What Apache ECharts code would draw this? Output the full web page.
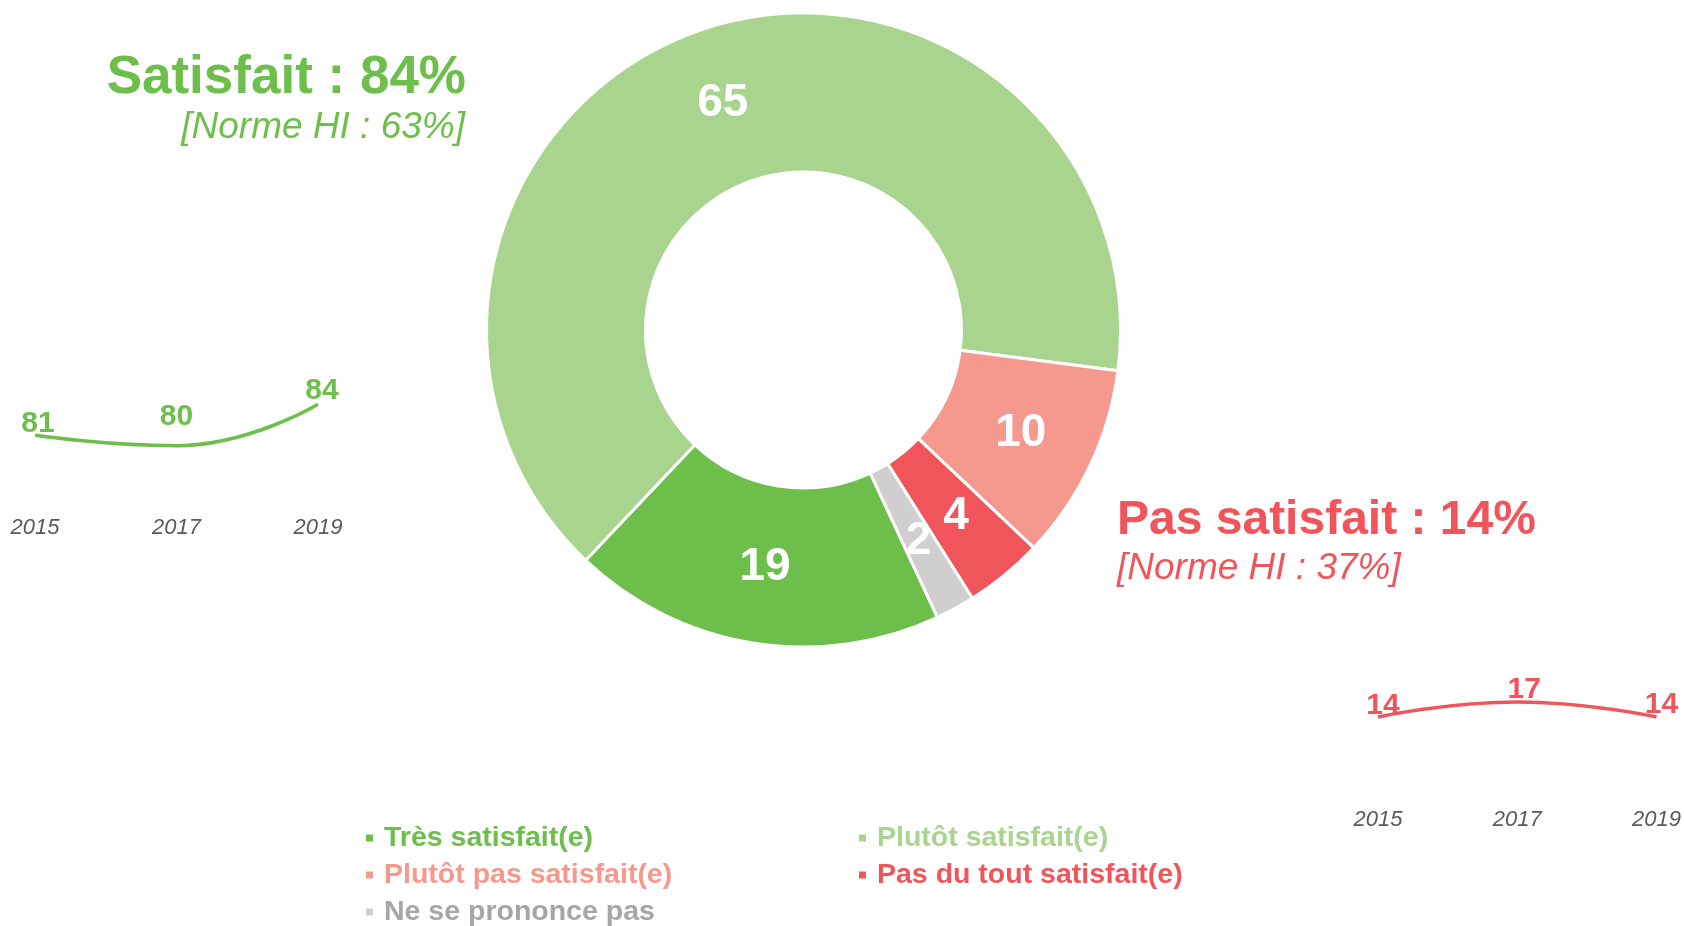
<!DOCTYPE html>
<html>
<head>
<meta charset="utf-8">
<script src="https://cdn.jsdelivr.net/npm/echarts@6/dist/echarts.min.js"></script>
<style>
  html, body { margin: 0; padding: 0; background: #fff; }
  #container { width: 1684px; height: 926px; }
</style>
</head>
<body>
<div id="container"></div>
<script>
// donut
const categories = [
  "Très satisfait(e)",
  "Plutôt satisfait(e)",
  "Plutôt pas satisfait(e)",
  "Pas du tout satisfait(e)",
  "Ne se prononce pas",
];
const values = [19, 65, 10, 4, 2];

// evolution
const years = ["2015", "2017", "2019"];
const satisfaitHisto = [81, 80, 84];
const pasSatisfaitHisto = [14, 17, 14];

// totals
const satisfaitTotal = 84;
const satisfaitNorme = 63;
const pasSatisfaitTotal = 14;
const pasSatisfaitNorme = 37;

const colors = ["#6DBE4B", "#A9D48E", "#F5988E", "#F0555B", "#D0CECF"];
const legendTextColors = ["#6DBE4B", "#A9D48E", "#F5988E", "#F0555B", "#A6A6A6"];
const GREEN = "#6DBE4B";
const RED = "#F0555B";
const FONT = "'Liberation Sans', Arial, sans-serif";

const myChart = echarts.init(document.getElementById("container"), null, {
  renderer: "canvas",
});

// one legend per item, laid out as a 2-column grid
const legendSlots = [
  [364, 823], // Très satisfait
  [857, 823], // Plutôt satisfait
  [364, 860], // Plutôt pas satisfait
  [857, 860], // Pas du tout satisfait
  [364, 897], // Ne se prononce pas
];

function legendAt(i) {
  return {
    orient: "horizontal",
    left: legendSlots[i][0],
    top: legendSlots[i][1],
    padding: 0,
    icon: "rect",
    itemWidth: 9,
    itemHeight: 9,
    selectedMode: false,
    textStyle: {
      fontFamily: FONT,
      fontSize: 28.5,
      fontWeight: "bold",
      lineHeight: 30,
      padding: [0, 0, 0, 5],
      color: legendTextColors[i],
    },
    data: [{ name: categories[i], itemStyle: { color: colors[i] } }],
  };
}

// label offsets for the small evolution lines
const satOffsets = [[3, 3], [0, -14], [4, 1]];
const pasOffsets = [[5, 4], [7, 3], [5, 3]];

function miniLine(gridIndex, vals, color, offsets) {
  return {
    type: "line",
    xAxisIndex: gridIndex,
    yAxisIndex: gridIndex,
    smooth: true,
    symbol: "circle",
    symbolSize: 0,
    showSymbol: true,
    lineStyle: { color: color, width: 3.5 },
    itemStyle: { color: color },
    label: {
      show: true,
      position: "top",
      distance: 0,
      color: color,
      fontFamily: FONT,
      fontSize: 30,
      fontWeight: "bold",
    },
    data: vals.map((v, i) => ({ value: v, label: { offset: offsets[i] } })),
    silent: true,
  };
}

function xAx(gridIndex, margin) {
  return {
    type: "category",
    gridIndex: gridIndex,
    data: years,
    boundaryGap: false,
    axisLine: { show: false },
    axisTick: { show: false },
    splitLine: { show: false },
    axisLabel: {
      margin: margin,
      color: "#595959",
      fontFamily: FONT,
      fontStyle: "italic",
      fontSize: 22,
    },
  };
}

function yAx(gridIndex, min, max) {
  return {
    type: "value",
    gridIndex: gridIndex,
    min: min,
    max: max,
    show: false,
  };
}

const option = {
  backgroundColor: "#fff",
  animation: false,
  graphic: [
    {
      type: "text",
      x: 466,
      y: 78,
      style: {
        text: "Satisfait : " + satisfaitTotal + "%",
        fill: GREEN,
        font: "bold 53px " + FONT,
        align: "right",
        verticalAlign: "middle",
      },
    },
    {
      type: "text",
      x: 465,
      y: 128,
      style: {
        text: "[Norme HI : " + satisfaitNorme + "%]",
        fill: GREEN,
        font: "italic 37px " + FONT,
        align: "right",
        verticalAlign: "middle",
      },
    },
    {
      type: "text",
      x: 1117,
      y: 521,
      style: {
        text: "Pas satisfait : " + pasSatisfaitTotal + "%",
        fill: RED,
        font: "bold 48px " + FONT,
        align: "left",
        verticalAlign: "middle",
      },
    },
    {
      type: "text",
      x: 1117,
      y: 569,
      style: {
        text: "[Norme HI : " + pasSatisfaitNorme + "%]",
        fill: RED,
        font: "italic 37px " + FONT,
        align: "left",
        verticalAlign: "middle",
      },
    },
  ],
  legend: categories.map((_, i) => legendAt(i)),
  grid: [
    { left: 35, width: 283, top: 363, height: 124 },
    { left: 1378, width: 282, top: 687, height: 100 },
  ],
  xAxis: [xAx(0, 30), xAx(1, 22)],
  yAxis: [yAx(0, 76, 88), yAx(1, 0, 20)],
  series: [
    {
      type: "pie",
      center: [803.5, 330],
      radius: [158, 317],
      startAngle: -65,
      clockwise: true,
      avoidLabelOverlap: false,
      silent: true,
      itemStyle: { borderColor: "#fff", borderWidth: 3 },
      label: {
        show: true,
        position: "inside",
        formatter: "{c}",
        color: "#fff",
        fontFamily: FONT,
        fontSize: 46,
        fontWeight: "bold",
      },
      labelLine: { show: false },
      data: categories.map((name, i) => ({
        name: name,
        value: values[i],
        itemStyle: { color: colors[i] },
      })),
    },
    miniLine(0, satisfaitHisto, GREEN, satOffsets),
    miniLine(1, pasSatisfaitHisto, RED, pasOffsets),
  ],
};

myChart.setOption(option);
window.addEventListener("resize", myChart.resize);
</script>
</body>
</html>
